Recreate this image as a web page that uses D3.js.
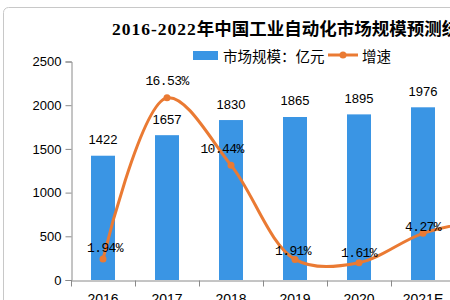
<!DOCTYPE html>
<html><head><meta charset="utf-8">
<script src="https://cdn.jsdelivr.net/npm/d3@7"></script>
<style>body{margin:0;background:#fff;overflow:hidden}svg{display:block}</style>
</head><body>
<svg id="c" width="450" height="300"></svg>
<script>
const categories = ["2016","2017","2018","2019","2020","2021E","2022E"];
const marketSize = [1422,1657,1830,1865,1895,1976,2085];
const growthRate = [1.94,16.53,10.44,1.91,1.61,4.27,5.52];
const yTicks = [0,500,1000,1500,2000,2500];
const titleYears = "2016-2022";
const titleRest = "年中国工业自动化市场规模预测统计";
const legendBar = "市场规模：亿元";
const legendLine = "增速";

const svg = d3.select("#c");
svg.append("rect").attr("width",450).attr("height",300).attr("fill","#fff");
svg.append("rect").attr("x",3.5).attr("y",7.5).attr("width",700).attr("height",500)
  .attr("rx",5).attr("fill","none").attr("stroke","#c8c8c8");

const x0 = 71, step = 64;
const x = d3.scaleBand().domain(categories).range([x0, x0+step*categories.length])
  .paddingInner(0.625).paddingOuter(0.3125);
const y = d3.scaleLinear().domain([0,2500]).range([280,61.5]);
const y2 = d3.scaleLinear().domain([0,20]).range([280.5,59.5]);
const cx = d => x(d)+x.bandwidth()/2;

// title
const t = svg.append("text").attr("x",112).attr("y",35)
  .attr("font-family","'Liberation Serif','Noto Sans CJK SC'").attr("font-weight","bold")
  .attr("font-size",17.5).attr("fill","#000");
t.append("tspan").attr("letter-spacing",1).text(titleYears);
t.append("tspan").text(titleRest);

// legend
svg.append("rect").attr("x",193).attr("y",51).attr("width",25).attr("height",9).attr("fill","#3a95e4");
svg.append("text").attr("x",223).attr("y",55.5).attr("dominant-baseline","central")
  .attr("font-family","'Noto Sans CJK SC'").attr("font-size",14.5).text(legendBar);
svg.append("line").attr("x1",328).attr("x2",358).attr("y1",55).attr("y2",55)
  .attr("stroke","#ea7a33").attr("stroke-width",3);
svg.append("circle").attr("cx",343).attr("cy",55).attr("r",3.5).attr("fill","#ea7a33");
svg.append("text").attr("x",362).attr("y",55.5).attr("dominant-baseline","central")
  .attr("font-family","'Noto Sans CJK SC'").attr("font-size",14.5).text(legendLine);

// y axis
const ya = svg.append("g").attr("transform",`translate(${x0+0.5},0)`)
  .call(d3.axisLeft(y).tickValues(yTicks).tickSize(6).tickPadding(4).tickFormat(d3.format("d")));
ya.select(".domain").attr("stroke","#8a8a8a");
ya.selectAll(".tick line").attr("stroke","#8a8a8a");
ya.selectAll("text").attr("font-family","'Liberation Sans'").attr("font-size",13).attr("fill","#000");

// bars
svg.selectAll(".bar").data(categories).join("rect").attr("class","bar")
  .attr("x",d=>x(d)).attr("width",x.bandwidth())
  .attr("y",(d,i)=>y(marketSize[i])).attr("height",(d,i)=>y(0)-y(marketSize[i]))
  .attr("fill","#3a95e4");
svg.selectAll(".blab").data(categories).join("text").attr("class","blab")
  .attr("x",d=>cx(d)).attr("y",(d,i)=>y(marketSize[i])-11.5).attr("text-anchor","middle")
  .attr("font-family","'Liberation Sans'").attr("font-size",13).text((d,i)=>marketSize[i]);

// x axis
const xa = svg.append("g").attr("transform",`translate(0,${y(0)+0.5})`)
  .call(d3.axisBottom(x).tickSize(0).tickPadding(14));
xa.select(".domain").attr("stroke","#8a8a8a");
xa.selectAll("text").attr("font-family","'Liberation Sans'").attr("font-size",14).attr("fill","#000");
xa.selectAll(".bound").data(d3.range(categories.length+1)).join("line").attr("class","bound")
  .attr("x1",i=>x0+i*step+0.5).attr("x2",i=>x0+i*step+0.5).attr("y1",0).attr("y2",6)
  .attr("stroke","#8a8a8a");

// growth line
const pts = categories.map((c,i)=>[cx(c), y2(growthRate[i])]);
svg.append("path").attr("d",d3.line().curve(d3.curveCatmullRom.alpha(0.5))(pts))
  .attr("fill","none").attr("stroke","#ea7a33").attr("stroke-width",3);
svg.selectAll(".dot").data(pts).join("circle").attr("class","dot")
  .attr("cx",d=>d[0]).attr("cy",d=>d[1]).attr("r",3.5).attr("fill","#ea7a33");
const labOff = [[2,-7],[0,-13],[-9,-12],[-2,-4],[0,-6],[0,-2],[0,-6]];
svg.selectAll(".glab").data(categories).join("text").attr("class","glab")
  .attr("x",(d,i)=>pts[i][0]+labOff[i][0]).attr("y",(d,i)=>pts[i][1]+labOff[i][1])
  .attr("text-anchor","middle").attr("font-family","'Liberation Mono'").attr("font-size",13)
  .attr("letter-spacing",-0.6).text((d,i)=>growthRate[i].toFixed(2)+"%");
</script>
</body></html>
